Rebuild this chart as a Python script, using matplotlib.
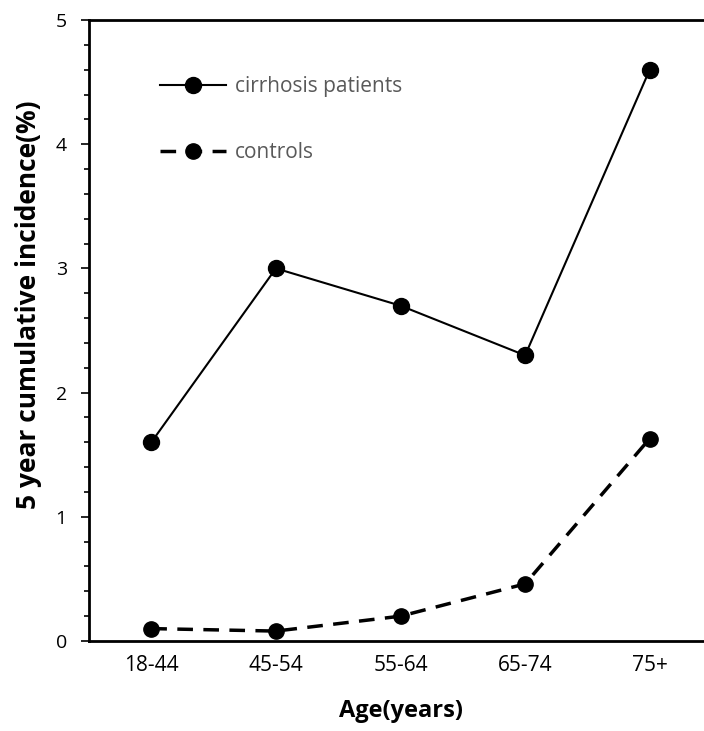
import matplotlib.pyplot as plt
from matplotlib.ticker import MultipleLocator

# values
age_groups = ["18-44", "45-54", "55-64", "65-74", "75+"]
cirrhosis = [1.6, 3.0, 2.7, 2.3, 4.6]
controls = [0.10, 0.08, 0.20, 0.46, 1.63]

plt.rcParams["font.family"] = ["Open Sans", "DejaVu Sans"]

fig = plt.figure(figsize=(7.04, 7.31), dpi=100)
ax = fig.add_axes([0.1264, 0.1231, 0.885, 0.8495])

x = range(len(age_groups))
ax.plot(x, cirrhosis, color="black", lw=1.5, marker="o", markersize=11.5,
        label="cirrhosis patients", clip_on=False)
ax.plot(x, controls, color="black", lw=2.5, ls=(0, (4.5, 3)), marker="o",
        markersize=11, label="controls", clip_on=False)

ax.set_xlim(-0.5, 4.5)
ax.set_ylim(0, 5)
ax.set_xticks(list(x))
ax.set_xticklabels(age_groups)
ax.yaxis.set_major_locator(MultipleLocator(1))
ax.yaxis.set_minor_locator(MultipleLocator(0.2))
ax.tick_params(axis="x", length=0, pad=10, labelsize=15)
ax.tick_params(axis="y", which="major", length=6, width=1.2, direction="out", labelsize=14, pad=10)
ax.tick_params(axis="y", which="minor", length=3.5, width=1.2, direction="out")
for s in ["left", "bottom", "top"]:
    ax.spines[s].set_linewidth(2)
ax.spines["right"].set_visible(False)

ax.set_xlabel("Age(years)", fontsize=17, fontweight="bold")
ax.set_ylabel("5 year cumulative incidence(%)", fontsize=19, fontweight="bold")
ax.xaxis.set_label_coords(0.5, -0.093)
ax.yaxis.set_label_coords(-0.075, 0.541)

leg = ax.legend(loc="upper left", bbox_to_anchor=(0.0836, 0.94), frameon=False,
                fontsize=15, handlelength=3.2, labelspacing=2.15, handletextpad=0.4)
for t in leg.get_texts():
    t.set_color("#595959")

plt.savefig("out.png", dpi=100)
